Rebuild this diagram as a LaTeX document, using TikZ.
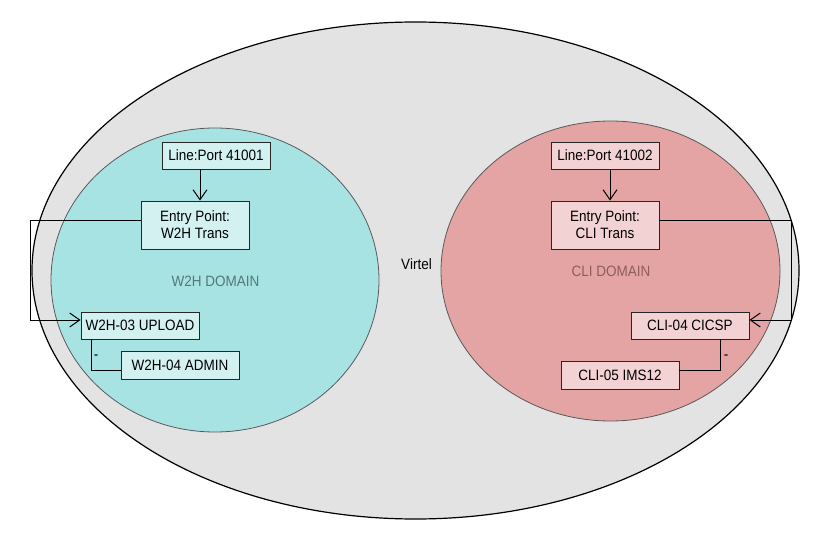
\documentclass[tikz,border=0pt]{standalone}
\usepackage{fontspec}
\setmainfont{Liberation Sans}[FakeStretch=0.9]
\usetikzlibrary{arrows.meta}
\definecolor{outerfill}{HTML}{E3E3E3}
\definecolor{cyanfill}{HTML}{A8E3E3}
\definecolor{cyanbox}{HTML}{D3F1F1}
\definecolor{pinkfill}{HTML}{E4A4A4}
\definecolor{pinkbox}{HTML}{F3D2D3}
\definecolor{cyantext}{HTML}{557777}
\definecolor{pinktext}{HTML}{8C5E60}
\definecolor{rimgray}{HTML}{5A5A5A}
\tikzset{
  lbl/.style={font=\fontsize{15}{17}\selectfont, text=black, inner sep=0pt},
  box/.style={draw=black!85, line width=0.9pt, inner sep=0pt, anchor=center,
              font=\fontsize{15}{17}\selectfont, align=center},
  wbox/.style={box, fill=cyanbox},
  cbox/.style={box, fill=pinkbox},
  conn/.style={draw=black, line width=1pt},
  arr/.style={conn, -{Straight Barb[length=10pt,width=14pt,line width=1pt]}},
}
\begin{document}
\begin{tikzpicture}[x=1pt,y=-1pt]
\useasboundingbox (0,0) rectangle (830,540);
\fill[white] (0,0) rectangle (830,540);
% containers
\draw[fill=outerfill, draw=black, line width=1.2pt] (415.5,270.5) ellipse [x radius=383.5, y radius=248.5];
\draw[fill=cyanfill, draw=rimgray, line width=0.8pt] (215,280) ellipse [x radius=164, y radius=152];
\draw[fill=pinkfill, draw=rimgray, line width=0.8pt] (610.5,271) ellipse [x radius=169.5, y radius=150];
\node[lbl] (virtel) at (416.5,264) {Virtel};
\node[lbl, text=cyantext] (wdom) at (215.5,281) {W2H DOMAIN};
\node[lbl, text=pinktext] (cdom) at (611,271.5) {CLI DOMAIN};
% W2H boxes
\node[wbox, minimum width=108, minimum height=27] (lp1) at (216,155.5) {Line:Port 41001};
\node[wbox, minimum width=108, minimum height=48] (ep1) at (195,225) {Entry Point:\\W2H Trans};
\node[wbox, minimum width=118, minimum height=27] (up1) at (140,325.5) {W2H-03 UPLOAD};
\node[wbox, minimum width=118, minimum height=28] (ad1) at (180,365) {W2H-04 ADMIN};
% CLI boxes
\node[cbox, minimum width=108, minimum height=27] (lp2) at (605,155.5) {Line:Port 41002};
\node[cbox, minimum width=108, minimum height=48] (ep2) at (605,225) {Entry Point:\\CLI Trans};
\node[cbox, minimum width=118, minimum height=27] (cp) at (690,325.5) {CLI-04 CICSP};
\node[cbox, minimum width=118, minimum height=28] (ims) at (620,375) {CLI-05 IMS12};
% helper coordinates
\coordinate (a1) at (200,0);
\coordinate (a2) at (610,0);
\coordinate (l1y) at (0,221);
\coordinate (l1x) at (30,0);
\coordinate (ly) at (0,320);
\coordinate (l2x) at (791,0);
\coordinate (d1x) at (91,0);
\coordinate (d2x) at (720,0);
\coordinate (dy) at (0,370);
% connectors
\draw[arr] (lp1.south -| a1) -- (ep1.north -| a1);
\draw[arr] (lp2.south -| a2) -- (ep2.north -| a2);
\draw[arr] (ep1.west |- l1y) -- (l1x |- l1y) -- (l1x |- ly) -- (up1.west |- ly);
\draw[arr] (ep2.east |- l1y) -- (l2x |- l1y) -- (l2x |- ly) -- (cp.east |- ly);
\draw[conn] (up1.south -| d1x) -- (d1x |- dy) -- (ad1.west |- dy);
\draw[conn] (cp.south -| d2x) -- (d2x |- dy) -- (ims.east |- dy);
\node[lbl] (m1) at (96,357) {-};
\node[lbl] (m2) at (726,357) {-};
\end{tikzpicture}
\end{document}
